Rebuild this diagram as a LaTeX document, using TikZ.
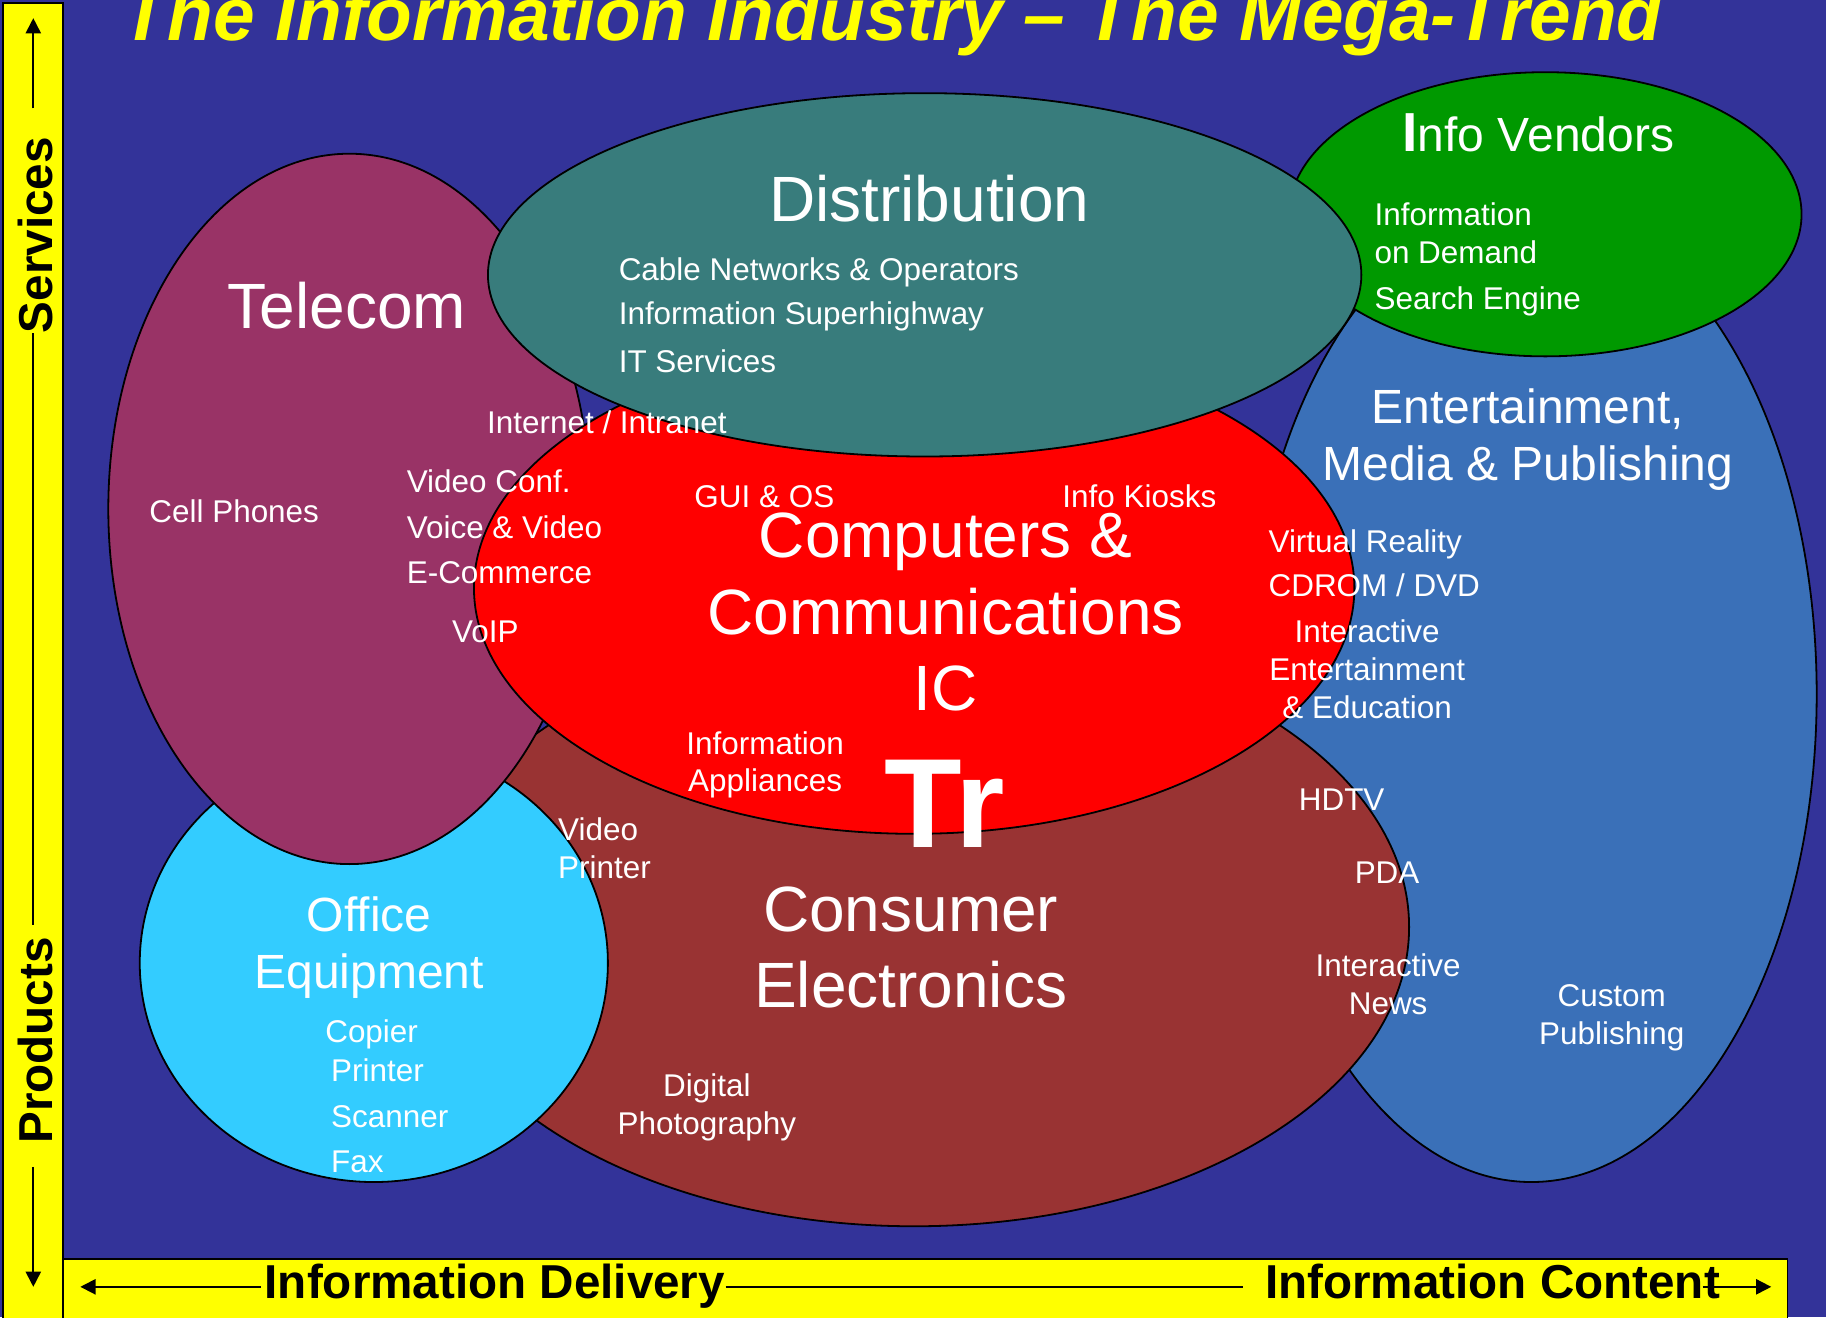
\documentclass[tikz,border=0pt]{standalone}
\usepackage{fontspec}
\setmainfont{Liberation Sans}
\usetikzlibrary{arrows.meta}
\definecolor{bgblue}{RGB}{51,51,153}
\definecolor{barY}{RGB}{255,255,0}
\definecolor{entBlue}{RGB}{58,112,184}
\definecolor{consBrown}{RGB}{153,51,51}
\definecolor{offCyan}{RGB}{51,204,255}
\definecolor{telMaroon}{RGB}{153,51,102}
\definecolor{compRed}{RGB}{255,0,0}
\definecolor{infoGreen}{RGB}{0,153,0}
\definecolor{distTeal}{RGB}{56,124,124}
\begin{document}
\begin{tikzpicture}[x=0.58225pt,y=-0.58225pt,
  blob/.style={draw=black,line width=0.9pt},
  bar/.style={fill=barY,draw=black,line width=0.9pt},
  axis/.style={font=\fontsize{23.8pt}{28pt}\selectfont\bfseries,text=black,inner sep=0pt},
  arr/.style={line width=0.9pt,-{Triangle[length=7.6pt,width=7.6pt]}},
  axline/.style={line width=0.9pt},
  big/.style={font=\fontsize{32pt}{38.1pt}\selectfont,text=white,inner sep=0pt,align=center,anchor=base},
  mid/.style={font=\fontsize{24pt}{28.5pt}\selectfont,text=white,inner sep=0pt,align=center,anchor=base},
  sm/.style={font=\fontsize{15.72pt}{18.9pt}\selectfont,text=white,inner sep=0pt,align=left,anchor=base west},
  smc/.style={font=\fontsize{15.72pt}{18.9pt}\selectfont,text=white,inner sep=0pt,align=center,anchor=base},
]
\useasboundingbox (0,0) rectangle (1568,1131);
\fill[bgblue] (0,0) rectangle (1568,1131);

% ellipses, back to front
\draw[blob,fill=entBlue]   (1315,596) ellipse [x radius=245, y radius=419];
\draw[blob,fill=consBrown] (785,796)  ellipse [x radius=425, y radius=257];
\draw[blob,fill=offCyan]   (321,827)  ellipse [x radius=201, y radius=188];
\draw[blob,fill=telMaroon] (300,437)  ellipse [x radius=207, y radius=305];
\draw[blob,fill=compRed]   (785,505)  ellipse [x radius=378, y radius=211];
\draw[blob,fill=infoGreen] (1327,184) ellipse [x radius=220, y radius=122];
\draw[blob,fill=distTeal]  (794,236)  ellipse [x radius=375, y radius=156];

% axis bars
\draw[bar] (2.5,2.5) rectangle (54,1140);
\draw[bar] (54,1081) rectangle (1535,1140);

% title
\node[font=\fontsize{37.4pt}{40pt}\selectfont\bfseries\itshape,text=barY,inner sep=0pt,anchor=base] (title) at (766,34.5) {The Information Industry – The Mega-Trend};

% axis labels
\node[axis,rotate=90,anchor=base] (serv) at (45,202) {Services};
\node[axis,rotate=90,anchor=base] (prod) at (45,893.5) {Products};
\node[axis,anchor=base west] (deliv) at (227,1115) {Information Delivery};
\node[axis,anchor=base west] (content) at (1086,1115) {Information Content};

\coordinate (sv0) at (28.6,15.6);
\coordinate (sv1) at (28.6,93);
\coordinate (sv2) at (28.6,286);
\coordinate (pr0) at (28.6,794);
\coordinate (pr1) at (28.6,1002);
\coordinate (pr2) at (28.6,1105);
\coordinate (hd0) at (69,1105);
\coordinate (hd1) at (224,1105);
\coordinate (hd2) at (623,1105);
\coordinate (hc0) at (1067,1105);
\coordinate (hc1) at (1462,1105);
\coordinate (hc2) at (1521,1105);
\draw[arr] (sv1) -- (sv0);
\draw[axline] (sv2) -- (pr0);
\draw[arr] (pr1) -- (pr2);
\draw[arr] (hd1) -- (hd0);
\draw[axline] (hd2) -- (hc0);
\draw[arr] (hc1) -- (hc2);

% big labels (multi-line nodes are placed by the baseline of their last line)
\node[big] (distT) at (798,190) {Distribution};
\node[big] (telT) at (298,282) {Telecom};
\node[mid] (ivT) at (1321,130) {{\fontsize{27.5pt}{29pt}\selectfont\bfseries I}nfo Vendors};
\node[mid] (entT) at (1312,413) {Entertainment,\\Media \& Publishing};
\node[mid] (offT) at (317,849) {Office\\Equipment};
\node[big] (compT) at (812,610) {Computers \&\\Communications\\IC};
\node[big] (consT) at (782,865) {Consumer\\Electronics};
\node[font=\fontsize{63.5pt}{63.5pt}\selectfont\bfseries,text=white,inner sep=0pt,anchor=base] (tr) at (811,728) {Tr};

% small labels
\node[sm] (cable) at (531,241) {Cable Networks \& Operators};
\node[sm] (superhw) at (531,279) {Information Superhighway};
\node[sm] (itserv) at (531,320) {IT Services};
\node[sm] (iod) at (1180,226) {Information\\on Demand};
\node[sm] (search) at (1180,266) {Search Engine};
\node[sm] (inet) at (418,372) {Internet / Intranet};
\node[sm] (vconf) at (349,423) {Video Conf.};
\node[sm] (vv) at (349,462) {Voice \& Video};
\node[sm] (ecom) at (349,501) {E-Commerce};
\node[sm] (voip) at (388,552) {VoIP};
\node[sm] (cell) at (128,449) {Cell Phones};
\node[sm] (gui) at (596,436) {GUI \& OS};
\node[sm] (kiosk) at (912,436) {Info Kiosks};
\node[sm] (vr) at (1089,474) {Virtual Reality};
\node[sm] (cdrom) at (1089,512) {CDROM / DVD};
\node[smc] (iee) at (1174,617) {Interactive\\Entertainment\\\& Education};
\node[smc] (iapp) at (657,680) {Information\\Appliances};
\node[sm] (hdtv) at (1115,696) {HDTV};
\node[sm] (vprint) at (479,754) {Video\\Printer};
\node[sm] (pda) at (1163,759) {PDA};
\node[smc] (inews) at (1192,871) {Interactive\\News};
\node[smc] (cpub) at (1384,897) {Custom\\Publishing};
\node[sm] (copier) at (279,895) {Copier};
\node[sm] (printer) at (284,929) {Printer};
\node[sm] (scanner) at (284,968) {Scanner};
\node[sm] (fax) at (284,1007) {Fax};
\node[smc] (dphoto) at (607,974) {Digital\\Photography};
\end{tikzpicture}
\end{document}
